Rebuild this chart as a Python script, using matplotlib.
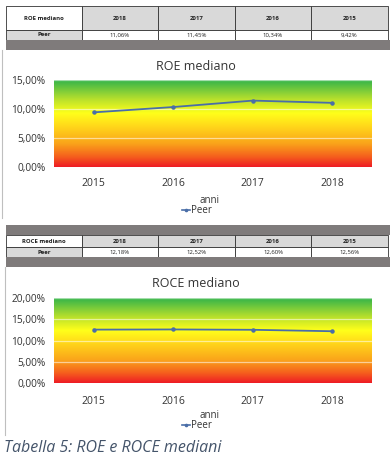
import matplotlib
matplotlib.use("Agg")
import matplotlib.pyplot as plt
import numpy as np
from matplotlib.colors import LinearSegmentedColormap
from matplotlib.patches import Rectangle

plt.rcParams['font.family'] = ['Open Sans', 'DejaVu Sans']

years_table = ["2018", "2017", "2016", "2015"]
roe_table = [11.06, 11.45, 10.34, 9.42]
roce_table = [12.18, 12.52, 12.60, 12.56]

years = ["2015", "2016", "2017", "2018"]
roe = [9.42, 10.34, 11.45, 11.06]
roce = [12.56, 12.60, 12.52, 12.18]

roe_ticks = [0, 5, 10, 15]
roce_ticks = [0, 5, 10, 15, 20]

W, H = 390, 465
fig = plt.figure(figsize=(W / 100, H / 100), dpi=100)
fig.patch.set_facecolor("white")

# overlay axes in pixel coords
ov = fig.add_axes([0, 0, 1, 1])
ov.set_xlim(0, W)
ov.set_ylim(H, 0)
ov.axis("off")

def fmt(v):
    return f"{v:.2f}".replace(".", ",") + "%"

LG = "#d9d9d9"
DG = "#7f7b7b"
TXT = "#333333"
cols = [6, 82, 158, 235, 311, 388]

def table(y0, y1, y2, label, vals):
    for i in range(5):
        x0, x1 = cols[i], cols[i + 1]
        ov.add_patch(Rectangle((x0, y0), x1 - x0, y1 - y0,
                               facecolor="white" if i == 0 else LG,
                               edgecolor="#333333", lw=0.6))
        ov.add_patch(Rectangle((x0, y1), x1 - x0, y2 - y1,
                               facecolor=LG if i == 0 else "white",
                               edgecolor="#333333", lw=0.6))
        cx = (x0 + x1) / 2
        ov.text(cx, (y0 + y1) / 2, label if i == 0 else years_table[i - 1],
                ha="center", va="center", fontsize=4.3, fontweight="bold",
                color="#222222")
        ov.text(cx, (y1 + y2) / 2, "Peer" if i == 0 else fmt(vals[i - 1]),
                ha="center", va="center", fontsize=4.3,
                fontweight="bold" if i == 0 else "normal", color="#222222")

table(6, 30, 40, "ROE mediano", roe_table)
ov.add_patch(Rectangle((6, 40), 384, 10, facecolor=DG, edgecolor="none"))
ov.add_patch(Rectangle((6, 225), 384, 10, facecolor=DG, edgecolor="none"))
table(235, 247, 257, "ROCE mediano", roce_table)
ov.add_patch(Rectangle((6, 257), 384, 10, facecolor=DG, edgecolor="none"))

# left frame lines
ov.plot([2, 2], [50, 218], color="#bfbfbf", lw=0.8)
ov.plot([5, 5], [267, 435], color="#bfbfbf", lw=0.8)

cmap = LinearSegmentedColormap.from_list("grad", [
    (0.0, "#ee1c25"), (0.12, "#f5601d"), (0.27, "#faa41a"),
    (0.45, "#ffd21a"), (0.62, "#ffff1a"), (0.78, "#b8e02c"),
    (1.0, "#34b44a")])

LINE = "#4a6ea8"

def chart(top, bottom, title, title_y, vals, ticks, xlab_y, anni_y, leg_y):
    left, right = 54, 372
    ax = fig.add_axes([left / W, 1 - bottom / H, (right - left) / W,
                       (bottom - top) / H])
    grad = np.linspace(0, 1, 256).reshape(-1, 1)
    ax.imshow(grad, cmap=cmap, origin="lower", aspect="auto",
              extent=[0, 1, 0, 1], transform=ax.transAxes, zorder=0)
    x = np.arange(len(years))
    ax.set_xlim(-0.5, len(years) - 0.5)
    ax.set_ylim(ticks[0], ticks[-1])
    for t in ticks[1:]:
        ax.axhline(t, color="white", lw=0.9, alpha=0.55, zorder=1)
    ax.plot(x, vals, color=LINE, lw=1.3, marker="o", ms=2.2, zorder=3)
    ax.set_yticks(ticks)
    ax.set_yticklabels([fmt(t) for t in ticks], fontsize=7.3, color=TXT)
    ax.set_xticks(x)
    ax.set_xticklabels([])
    for s in ax.spines.values():
        s.set_visible(False)
    ax.tick_params(length=0, pad=6)
    for xi, yl in zip(x, years):
        px = left + (xi + 0.5) * (right - left) / len(years)
        ov.text(px, xlab_y, yl, ha="center", va="center", fontsize=7.5,
                color=TXT)
    ov.text(196, title_y, title, ha="center", va="center", fontsize=9,
            color=TXT)
    ov.text(209, anni_y, "anni", ha="center", va="center", fontsize=7,
            color=TXT)
    ov.plot([182, 190], [leg_y, leg_y], color=LINE, lw=1.2)
    ov.plot([186], [leg_y], marker="o", ms=1.6, color=LINE)
    ov.text(190.5, leg_y, "Peer", ha="left", va="center", fontsize=7,
            color=TXT)
    return ax

chart(80, 167, "ROE mediano", 66, roe, roe_ticks, 183, 200, 210)
chart(298, 383, "ROCE mediano", 283, roce, roce_ticks, 401, 415, 425)

ov.text(4, 448, "Tabella 5: ROE e ROCE mediani", ha="left", va="center",
        fontsize=11.5, style="italic", color="#44546a")

fig.savefig("out.png", dpi=100)
